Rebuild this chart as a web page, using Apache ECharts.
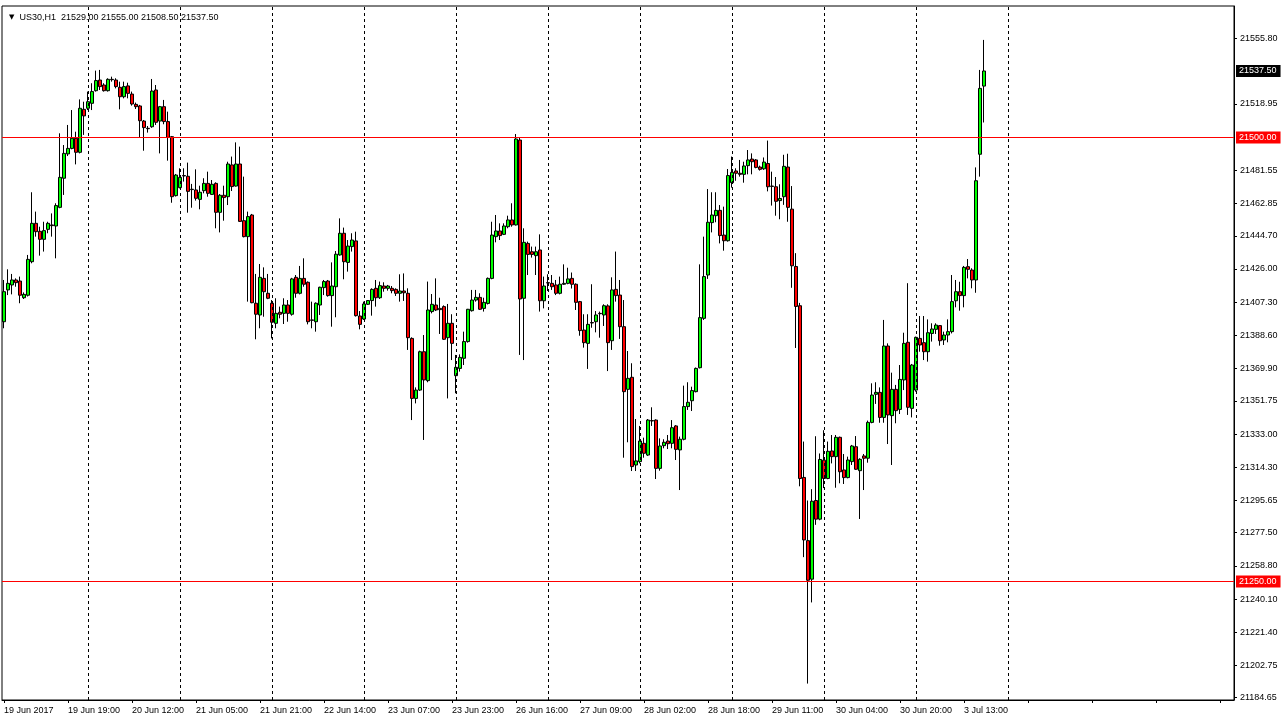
<!DOCTYPE html>
<html><head><meta charset="utf-8">
<script src="https://cdn.jsdelivr.net/npm/echarts@6/dist/echarts.min.js"></script>
<style>html,body{margin:0;padding:0;background:#fff;overflow:hidden}#c{width:1283px;height:723px}</style>
</head><body><div id="c"></div>
<script>
const symbolName = 'US30,H1';
const openP = [
21396.3,21414.2,21417.0,21419.8,21419.2,21409.8,21411.2,21430.1,21451.7,21447.2,
21442.7,21448.3,21450.8,21450.2,21460.7,21477.1,21490.8,21493.9,21499.6,21491.7,
21515.9,21516.5,21519.3,21526.4,21532.4,21529.6,21526.4,21532.8,21532.4,21528.3,
21523.0,21529.1,21524.5,21518.7,21517.8,21509.3,21505.2,21506.1,21526.8,21509.3,
21517.4,21509.0,21500.5,21467.3,21471.8,21478.6,21478.2,21470.9,21470.5,21465.2,
21470.1,21474.2,21468.0,21474.2,21457.9,21467.5,21466.7,21484.6,21472.7,21485.1,
21453.2,21444.2,21456.4,21406.7,21400.1,21420.7,21412.3,21406.7,21395.4,21401.6,
21401.0,21405.7,21400.5,21421.3,21412.3,21420.7,21418.5,21397.3,21396.3,21405.7,
21415.5,21419.2,21411.0,21416.0,21433.9,21446.1,21429.7,21438.6,21441.8,21399.5,
21397.8,21406.1,21408.2,21415.1,21409.8,21416.4,21415.1,21415.1,21414.5,21412.3,
21413.6,21412.3,21386.9,21353.1,21357.8,21379.4,21363.1,21402.0,21405.7,21403.8,
21404.8,21387.3,21395.4,21365.9,21370.0,21375.7,21385.1,21402.5,21408.5,21410.0,
21403.8,21406.6,21420.7,21444.2,21447.4,21445.5,21449.8,21453.6,21450.8,21498.6,
21409.5,21440.4,21435.7,21433.5,21436.7,21408.1,21418.3,21417.9,21417.0,21412.3,
21417.4,21417.9,21420.7,21417.4,21407.6,21391.6,21384.1,21395.8,21396.3,21401.0,
21400.1,21405.2,21385.6,21414.5,21411.3,21393.5,21358.2,21365.0,21315.6,21317.5,
21327.8,21321.2,21340.6,21340.9,21313.7,21326.5,21329.1,21327.8,21337.6,21324.1,
21330.1,21348.5,21351.8,21356.9,21370.4,21398.2,21422.6,21452.1,21456.0,21459.0,
21445.1,21441.9,21474.6,21481.2,21479.9,21479.3,21484.2,21487.9,21487.4,21483.4,
21482.4,21485.4,21472.7,21472.3,21464.5,21466.7,21483.4,21459.7,21427.4,21405.3,
21308.6,21273.0,21251.3,21295.6,21285.1,21318.3,21308.0,21323.5,21320.3,21331.2,
21312.8,21308.5,21317.5,21325.9,21312.4,21320.7,21319.4,21339.6,21355.4,21356.5,
21342.4,21382.6,21343.4,21358.2,21346.9,21363.5,21384.7,21347.5,21357.8,21386.9,
21384.5,21379.4,21389.7,21392.0,21394.1,21386.0,21388.8,21390.7,21408.1,21413.2,
21411.0,21427.3,21425.4,21419.8,21490.6,21529.0];
const highP = [
21419.8,21425.8,21423.2,21420.7,21421.7,21412.8,21433.9,21469.2,21458.3,21449.8,
21452.6,21452.6,21457.3,21463.0,21502.4,21495.8,21507.1,21515.5,21503.3,21521.5,
21520.2,21525.9,21530.6,21537.7,21538.1,21530.6,21533.4,21534.3,21533.4,21531.5,
21531.5,21530.9,21525.9,21519.7,21518.4,21509.9,21506.5,21533.0,21529.6,21517.8,
21521.2,21514.6,21500.9,21479.5,21482.7,21482.7,21485.9,21473.9,21482.1,21472.9,
21477.1,21480.8,21476.1,21474.8,21468.2,21472.9,21486.4,21489.3,21497.3,21494.9,
21478.0,21458.3,21457.0,21423.2,21428.8,21426.9,21423.2,21408.5,21409.5,21404.8,
21409.5,21408.5,21421.0,21422.6,21427.7,21432.0,21419.0,21407.6,21407.2,21416.0,
21419.8,21419.8,21429.7,21436.1,21454.5,21449.3,21442.3,21446.1,21447.0,21402.3,
21407.6,21408.5,21415.1,21419.8,21418.9,21418.5,21417.0,21416.4,21415.1,21423.0,
21423.5,21415.1,21387.5,21359.3,21380.0,21388.8,21418.9,21411.9,21420.7,21409.8,
21405.5,21406.3,21400.5,21377.6,21377.9,21390.7,21403.5,21414.2,21414.2,21412.3,
21409.8,21421.2,21452.6,21456.4,21451.7,21451.7,21456.0,21463.0,21502.0,21500.0,
21448.9,21441.4,21438.6,21438.6,21445.5,21421.7,21423.0,21422.6,21419.8,21421.7,
21428.6,21426.7,21424.0,21417.9,21408.0,21400.5,21400.5,21417.4,21402.3,21402.0,
21406.1,21406.1,21421.3,21435.8,21419.8,21408.5,21379.8,21372.9,21341.5,21337.6,
21331.0,21341.5,21348.1,21341.3,21330.6,21330.1,21332.5,21340.9,21338.1,21331.6,
21360.3,21362.2,21359.7,21370.5,21428.6,21444.2,21471.0,21469.2,21469.2,21462.0,
21461.1,21482.3,21489.3,21482.7,21487.4,21486.4,21493.0,21491.1,21487.9,21484.2,
21488.8,21498.3,21480.8,21477.8,21473.7,21490.3,21490.9,21472.7,21434.9,21406.9,
21328.8,21295.6,21302.0,21331.8,21322.1,21335.2,21328.8,21332.5,21332.5,21331.6,
21321.8,21320.3,21326.9,21331.9,21319.4,21321.8,21340.6,21361.6,21362.2,21359.3,
21397.3,21384.1,21367.6,21360.7,21371.9,21390.1,21418.0,21372.5,21387.9,21399.5,
21399.5,21397.6,21395.4,21395.4,21394.4,21390.7,21397.6,21422.6,21419.8,21418.8,
21427.7,21431.6,21426.4,21483.2,21538.1,21555.0];
const lowP = [
21392.6,21411.3,21411.7,21416.0,21406.7,21409.1,21410.5,21429.2,21444.2,21433.5,
21435.8,21446.1,21444.2,21432.0,21460.2,21467.7,21489.6,21493.4,21484.9,21491.1,
21501.5,21515.5,21515.5,21525.9,21526.8,21525.9,21525.9,21531.5,21527.7,21515.9,
21522.1,21522.1,21518.0,21516.1,21500.1,21492.6,21502.8,21505.5,21507.1,21491.1,
21507.5,21487.0,21463.3,21466.8,21471.4,21475.2,21457.7,21460.5,21464.5,21459.6,
21468.6,21466.7,21467.7,21448.9,21446.6,21453.2,21462.0,21469.9,21472.4,21452.5,
21443.8,21407.6,21406.7,21386.4,21392.6,21399.1,21409.0,21386.9,21392.6,21398.2,
21395.0,21396.3,21399.7,21409.8,21411.7,21416.0,21394.8,21392.6,21390.7,21400.1,
21411.3,21410.4,21393.5,21398.8,21433.5,21420.2,21424.5,21435.8,21399.2,21392.0,
21397.3,21405.7,21399.7,21404.8,21409.1,21413.2,21413.8,21412.3,21410.8,21407.6,
21408.0,21380.4,21340.9,21350.3,21357.3,21329.7,21362.2,21401.0,21402.3,21389.4,
21386.0,21353.1,21374.7,21356.0,21368.2,21371.9,21384.5,21402.0,21407.6,21402.9,
21402.0,21406.0,21420.2,21441.0,21442.3,21445.1,21448.9,21449.8,21450.5,21377.6,
21374.7,21422.6,21432.4,21422.6,21402.0,21403.8,21413.6,21414.2,21411.3,21411.7,
21417.0,21417.4,21415.0,21402.9,21388.4,21381.7,21369.7,21392.9,21390.3,21387.3,
21393.9,21368.5,21380.4,21407.6,21386.6,21319.7,21328.4,21312.2,21312.2,21316.5,
21319.7,21320.7,21337.6,21307.7,21312.4,21325.0,21324.6,21325.0,21318.4,21301.5,
21329.5,21346.6,21346.0,21356.5,21370.0,21397.3,21420.4,21446.6,21452.3,21440.4,
21436.3,21441.4,21471.8,21475.7,21478.0,21474.6,21479.3,21479.3,21482.7,21481.4,
21481.8,21469.7,21461.7,21456.0,21454.0,21462.1,21452.6,21415.4,21381.5,21303.6,
21263.7,21192.5,21238.2,21281.9,21284.5,21302.6,21307.6,21316.5,21302.8,21305.3,
21304.9,21308.1,21315.6,21312.8,21285.2,21301.5,21316.9,21339.1,21350.0,21339.4,
21339.4,21327.4,21315.6,21339.1,21344.3,21357.8,21343.8,21342.4,21356.9,21379.4,
21374.7,21373.8,21385.1,21389.4,21382.8,21383.2,21384.7,21389.7,21404.4,21402.5,
21404.4,21420.7,21415.1,21412.6,21478.0,21508.5];
const closeP = [
21413.2,21417.9,21419.8,21418.3,21411.2,21411.7,21431.4,21451.7,21447.0,21442.7,
21447.6,21451.7,21450.4,21461.7,21477.6,21491.1,21493.9,21499.6,21491.7,21516.5,
21512.2,21520.2,21525.9,21532.1,21528.7,21526.4,21532.8,21532.6,21528.7,21523.0,
21528.7,21524.9,21518.9,21517.4,21509.5,21505.6,21505.0,21526.2,21508.6,21517.4,
21509.0,21500.1,21466.7,21478.9,21477.6,21478.4,21469.7,21470.7,21465.8,21469.2,
21474.2,21468.6,21473.7,21457.9,21467.5,21466.2,21485.1,21472.4,21485.1,21452.8,
21444.2,21455.5,21407.0,21400.5,21421.3,21413.2,21409.5,21396.0,21401.0,21400.5,
21405.7,21401.0,21420.4,21412.3,21420.7,21417.4,21396.3,21397.1,21406.7,21415.7,
21418.9,21411.0,21416.4,21434.3,21446.1,21430.1,21438.9,21442.3,21399.7,21394.8,
21406.3,21408.2,21414.5,21409.8,21416.6,21415.1,21416.4,21413.8,21412.3,21413.6,
21412.6,21387.3,21353.1,21357.8,21379.4,21363.5,21402.9,21406.1,21402.9,21403.1,
21386.4,21395.4,21384.1,21370.6,21376.2,21385.1,21403.3,21408.5,21410.0,21403.3,
21407.2,21420.7,21445.1,21447.4,21444.8,21450.2,21453.6,21450.8,21499.2,21409.1,
21441.0,21434.2,21434.2,21435.7,21408.1,21416.4,21418.1,21416.0,21412.3,21417.4,
21417.9,21420.4,21417.4,21407.2,21391.3,21384.5,21394.8,21395.6,21400.1,21400.8,
21405.3,21384.5,21414.2,21411.0,21393.5,21356.9,21364.4,21314.7,21317.9,21329.1,
21322.2,21340.9,21340.4,21313.7,21326.3,21328.4,21327.6,21336.6,21324.4,21330.1,
21348.5,21350.9,21357.5,21370.0,21398.6,21421.7,21452.3,21456.4,21459.0,21444.8,
21441.9,21478.6,21480.4,21479.9,21479.3,21484.0,21487.4,21486.4,21483.2,21482.1,
21486.2,21472.3,21472.5,21464.1,21465.7,21483.8,21460.7,21427.8,21404.9,21308.0,
21273.4,21250.7,21295.2,21285.1,21318.7,21308.0,21323.3,21320.3,21331.2,21311.8,
21308.5,21318.4,21326.3,21313.2,21318.8,21319.4,21339.6,21355.0,21356.5,21342.4,
21382.6,21343.8,21358.2,21346.2,21363.8,21384.1,21348.1,21371.9,21387.5,21383.2,
21379.4,21390.1,21392.2,21394.4,21385.6,21388.8,21390.7,21407.6,21413.2,21411.0,
21426.9,21425.8,21419.8,21475.7,21527.7,21537.5];

const timeTickLabels = ['19 Jun 2017','19 Jun 19:00','20 Jun 12:00','21 Jun 05:00','21 Jun 21:00',
  '22 Jun 14:00','23 Jun 07:00','23 Jun 23:00','26 Jun 16:00','27 Jun 09:00','28 Jun 02:00',
  '28 Jun 18:00','29 Jun 11:00','30 Jun 04:00','30 Jun 20:00','3 Jul 13:00'];
const priceTickLabels = [21555.80,21518.95,21481.55,21462.85,21444.70,21426.00,21407.30,21388.60,
  21369.90,21351.75,21333.00,21314.30,21295.65,21277.50,21258.80,21240.10,21221.40,21202.75,21184.65];
const levelLines = [21500.00, 21250.00];
const dayStartBars = [21,44,67,90,113,136,159,182,205,228,251];
const totalSlots = 308;
const labelEvery = 16;
const priceMin = 21183.25, priceMax = 21574.1;

const FONT = '"Liberation Sans", Arial, sans-serif';
const chart = echarts.init(document.getElementById('c'), null, {renderer:'canvas'});
const cats = Array.from({length: totalSlots}, (_, i) => String(i));
const candles = openP.map((o, i) => [o, closeP[i], lowP[i], highP[i]]);
const last = candles.length - 1;

const lineMarks = [];
levelLines.forEach(v => lineMarks.push({
  yAxis: v,
  lineStyle: {color: '#ff0000', width: 1, type: 'solid'},
  label: {show: true, position: 'end', distance: 2, formatter: v.toFixed(2),
    backgroundColor: '#ff0000', color: '#ffffff', padding: [2, 4, 1, 3],
    fontFamily: FONT, fontSize: 9}
}));
lineMarks.push({
  yAxis: closeP[last],
  lineStyle: {color: 'rgba(0,0,0,0)', width: 0},
  label: {show: true, position: 'end', distance: 2, formatter: closeP[last].toFixed(2),
    backgroundColor: '#000000', color: '#ffffff', padding: [2, 4, 1, 3],
    fontFamily: FONT, fontSize: 9}
});
dayStartBars.forEach(b => lineMarks.push({
  xAxis: b,
  lineStyle: {color: '#000', width: 1, type: [3, 3]},
  label: {show: false}
}));

const header = [symbolName, openP[last].toFixed(2), highP[last].toFixed(2), lowP[last].toFixed(2), closeP[last].toFixed(2)];

chart.setOption({
  animation: false,
  backgroundColor: '#ffffff',
  title: {
    text: '{t|▼}  ' + header[0] + '  ' + header.slice(1).join(' '),
    left: 4, top: 8,
    textStyle: {fontFamily: FONT, fontSize: 9, fontWeight: 'normal', color: '#000',
      rich: {t: {fontSize: 7, color: '#000', fontFamily: '"DejaVu Sans"'}}}
  },
  grid: {left: 2, right: 49, top: 6, bottom: 23, show: true, borderColor: '#000', borderWidth: 1, backgroundColor: '#fff'},
  xAxis: {
    type: 'category', data: cats, boundaryGap: true,
    axisLine: {show: true, lineStyle: {color: '#000', width: 1}},
    axisTick: {show: true, interval: labelEvery - 1, length: 3, alignWithLabel: true, lineStyle: {color: '#000'}},
    axisLabel: {
      interval: labelEvery - 1, align: 'left', margin: 6, color: '#000',
      fontFamily: FONT, fontSize: 9,
      formatter: (v, idx) => (idx % labelEvery === 0 && idx / labelEvery < timeTickLabels.length) ? timeTickLabels[idx / labelEvery] : ''
    },
    splitLine: {show: false}
  },
  yAxis: {
    type: 'value', position: 'right', min: priceMin, max: priceMax, scale: true,
    axisLine: {show: true, lineStyle: {color: '#000', width: 1}},
    axisTick: {show: true, length: 3, inside: false, customValues: priceTickLabels, lineStyle: {color: '#000'}},
    axisLabel: {customValues: priceTickLabels, margin: 6, color: '#000', fontFamily: FONT, fontSize: 9,
      formatter: v => Number(v).toFixed(2)},
    splitLine: {show: false}
  },
  series: [{
    type: 'candlestick',
    data: candles,
    barWidth: 3,
    itemStyle: {color: '#00ff00', color0: '#ff0000', borderColor: '#000', borderColor0: '#000', borderColorDoji: '#000', borderWidth: 1},
    emphasis: {disabled: true},
    markLine: {silent: true, symbol: ['none', 'none'], animation: false, precision: 2, data: lineMarks}
  }]
});
</script>
</body></html>
